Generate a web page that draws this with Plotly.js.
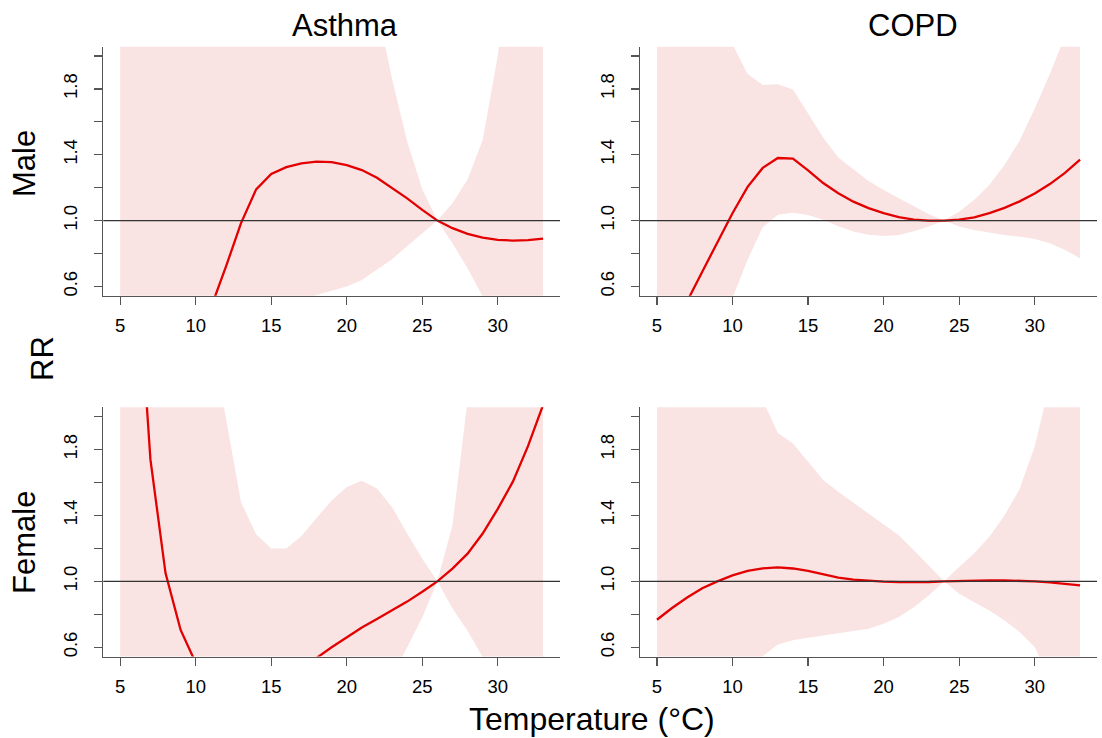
<!DOCTYPE html>
<html>
<head>
<meta charset="utf-8">
<script src="https://cdn.plot.ly/plotly-3.0.1.min.js"></script>
<style>html,body{margin:0;padding:0;background:#fff;}#chart{width:1102px;height:738px;}</style>
</head>
<body>
<div id="chart"></div>
<script>
// Temperature grid (°C)
const temps = [5,6,7,8,9,10,11,12,13,14,15,16,17,18,19,20,21,22,23,24,25,26,27,28,29,30,31,32,33];

// Male - Asthma
const maleAsthmaRR   = [0.09,0.10,0.12,0.15,0.20,0.30,0.47,0.72,0.985,1.19,1.283,1.325,1.348,1.358,1.355,1.337,1.307,1.26,1.20,1.135,1.065,1.0,0.954,0.919,0.897,0.883,0.879,0.882,0.891];
const maleAsthmaLow  = [0.05,0.06,0.07,0.09,0.11,0.14,0.18,0.23,0.29,0.35,0.41,0.46,0.51,0.548,0.572,0.60,0.64,0.70,0.765,0.845,0.925,1.0,0.862,0.71,0.54,0.40,0.30,0.22,0.16];
const maleAsthmaHigh = [6.0,5.6,5.2,4.9,4.6,4.4,4.2,4.0,3.9,3.8,3.7,3.6,3.4,3.3,3.1,2.9,2.6,2.3,1.86,1.48,1.19,1.0,1.105,1.25,1.49,2.0,2.8,3.9,5.2];

// Male - COPD
const maleCopdRR   = [0.20,0.35,0.51,0.69,0.865,1.045,1.205,1.32,1.38,1.376,1.305,1.228,1.166,1.115,1.076,1.045,1.021,1.006,1.0,1.0,1.006,1.02,1.045,1.077,1.117,1.165,1.222,1.29,1.37];
const maleCopdLow  = [0.10,0.13,0.17,0.23,0.32,0.53,0.762,0.96,1.035,1.048,1.034,1.005,0.965,0.934,0.914,0.907,0.913,0.936,0.964,1.0,0.964,0.943,0.927,0.913,0.903,0.888,0.862,0.822,0.772];
const maleCopdHigh = [6.0,5.0,4.2,3.5,2.8,2.07,1.89,1.823,1.828,1.796,1.65,1.505,1.383,1.31,1.24,1.186,1.136,1.087,1.038,1.0,1.054,1.127,1.218,1.338,1.485,1.68,1.89,2.12,2.5];

// Female - Asthma
const femaleAsthmaRR   = [6.0,3.1,1.74,1.05,0.705,0.505,0.38,0.30,0.25,0.23,0.24,0.28,0.40,0.535,0.60,0.662,0.72,0.772,0.825,0.877,0.937,1.0,1.077,1.168,1.29,1.44,1.605,1.82,2.07];
const femaleAsthmaLow  = [0.05,0.05,0.06,0.07,0.08,0.09,0.10,0.11,0.12,0.13,0.14,0.16,0.18,0.21,0.24,0.28,0.32,0.37,0.43,0.60,0.78,1.0,0.835,0.70,0.54,0.40,0.30,0.22,0.16];
const femaleAsthmaHigh = [9.0,8.0,7.0,5.0,3.8,3.0,2.5,2.0,1.48,1.285,1.2,1.2,1.275,1.385,1.49,1.573,1.61,1.563,1.45,1.29,1.137,1.0,1.34,2.1,3.3,5.0,7.0,9.0,11.0];

// Female - COPD
const femaleCopdRR   = [0.767,0.838,0.902,0.958,1.0,1.036,1.063,1.079,1.085,1.078,1.063,1.043,1.023,1.01,1.003,0.998,0.995,0.994,0.996,1.0,1.003,1.005,1.006,1.006,1.004,1.0,0.994,0.986,0.976];
const femaleCopdLow  = [0.10,0.13,0.17,0.22,0.28,0.35,0.44,0.545,0.617,0.642,0.658,0.672,0.683,0.697,0.712,0.743,0.783,0.843,0.915,1.0,0.925,0.873,0.823,0.763,0.692,0.601,0.40,0.30,0.22];
const femaleCopdHigh = [7.0,6.0,5.0,4.2,3.6,2.8,2.35,2.1,1.9,1.836,1.725,1.615,1.543,1.477,1.413,1.35,1.28,1.188,1.097,1.0,1.087,1.17,1.27,1.40,1.56,1.82,2.2,2.6,3.2];

const xTicks = [5,10,15,20,25,30];
const yTickVals = [0.6,0.8,1.0,1.2,1.4,1.6,1.8,2.0];
const yTickText = ['0.6','','1.0','','1.4','','1.8',''];

const colTitles = ['Asthma','COPD'];
const rowTitles = ['Male','Female'];
const yTitle = 'RR';
const xTitle = 'Temperature (°C)';

const panels = [
  {low: maleAsthmaLow, high: maleAsthmaHigh, rr: maleAsthmaRR, ax: ''},
  {low: maleCopdLow, high: maleCopdHigh, rr: maleCopdRR, ax: '2'},
  {low: femaleAsthmaLow, high: femaleAsthmaHigh, rr: femaleAsthmaRR, ax: '3'},
  {low: femaleCopdLow, high: femaleCopdHigh, rr: femaleCopdRR, ax: '4'}
];

const bandColor = '#FAE3E3';
const lineColor = '#E30000';
const FONT = 'Liberation Sans, Arial, Helvetica, sans-serif';

const traces = [];
panels.forEach(p => {
  const xa = 'x' + p.ax, ya = 'y' + p.ax;
  traces.push({x: temps, y: p.low, xaxis: xa, yaxis: ya, type: 'scatter', mode: 'lines',
    line: {width: 0, color: bandColor}, hoverinfo: 'skip', showlegend: false});
  traces.push({x: temps, y: p.high, xaxis: xa, yaxis: ya, type: 'scatter', mode: 'lines',
    fill: 'tonexty', fillcolor: bandColor, line: {width: 0, color: bandColor}, hoverinfo: 'skip', showlegend: false});
  traces.push({x: temps, y: p.rr, xaxis: xa, yaxis: ya, type: 'scatter', mode: 'lines',
    line: {width: 2.3, color: lineColor}, showlegend: false});
});

const xDomL = [103.3/1102, 560/1102], xDomR = [640/1102, 1097/1102];
const yDomT = [1 - 295.7/738, 1 - 46.7/738], yDomB = [1 - 656.5/738, 1 - 407.3/738];

function xAxis(dom, anchor) {
  return {domain: dom, anchor: anchor, range: [3.88, 34.12], tickmode: 'array', tickvals: xTicks,
    ticks: 'outside', ticklen: 8, tickwidth: 1.3, tickcolor: '#555', showline: true, linecolor: '#555', linewidth: 1.5,
    showgrid: false, zeroline: false, tickfont: {family: FONT, size: 18.5, color: '#000'}, ticklabelstandoff: 5};
}
function yAxis(dom, anchor) {
  return {domain: dom, anchor: anchor, range: [0.544, 2.056], tickmode: 'array', tickvals: yTickVals, ticktext: yTickText,
    ticks: 'outside', ticklen: 8, tickwidth: 1.3, tickcolor: '#555', showline: true, linecolor: '#555', linewidth: 1.5,
    showgrid: false, zeroline: false, tickangle: -90, tickfont: {family: FONT, size: 18.5, color: '#000'}, ticklabelstandoff: 9};
}

const shapes = ['', '2', '3', '4'].map(a => ({type: 'line', xref: 'x' + a + ' domain', x0: 0, x1: 1,
  yref: 'y' + a, y0: 1, y1: 1, line: {color: '#333', width: 1.3}, layer: 'above'}));

const ann = (text, x, y, angle, size) => ({text: text, x: x, y: y, xref: 'paper', yref: 'paper', showarrow: false,
  xanchor: 'center', yanchor: 'middle', textangle: angle || 0, font: {family: FONT, size: size || 31, color: '#000'}});

const layout = {
  width: 1102, height: 738, margin: {l: 0, r: 0, t: 0, b: 0},
  paper_bgcolor: '#fff', plot_bgcolor: '#fff', showlegend: false,
  xaxis: xAxis(xDomL, 'y'), yaxis: yAxis(yDomT, 'x'),
  xaxis2: xAxis(xDomR, 'y2'), yaxis2: yAxis(yDomT, 'x2'),
  xaxis3: xAxis(xDomL, 'y3'), yaxis3: yAxis(yDomB, 'x3'),
  xaxis4: xAxis(xDomR, 'y4'), yaxis4: yAxis(yDomB, 'x4'),
  shapes: shapes,
  annotations: [
    ann(colTitles[0], 345/1102, 1 - 25/738),
    ann(colTitles[1], 913/1102, 1 - 25/738),
    ann(rowTitles[0], 24/1102, 1 - 164/738, -90),
    ann(rowTitles[1], 24/1102, 1 - 543/738, -90),
    ann(yTitle, 42/1102, 1 - 359/738, -90),
    ann(xTitle, 592/1102, 1 - 719/738, 0, 32)
  ]
};

Plotly.newPlot('chart', traces, layout, {staticPlot: true, displayModeBar: false});
</script>
</body>
</html>
